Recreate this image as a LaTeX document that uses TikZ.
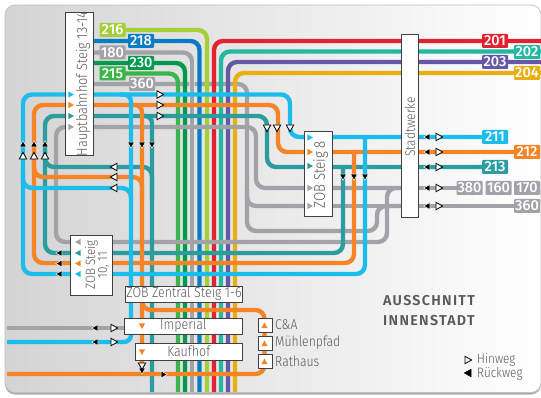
\documentclass[tikz,border=0pt]{standalone}
\usepackage{fontspec}
\setmainfont{Fira Sans Light}[FakeStretch=0.86]
\newfontfamily\numfont{Fira Sans Medium}
\newfontfamily\headfont{Fira Sans SemiBold}[LetterSpace=9]
\definecolor{cLime}{HTML}{A6CE39}
\definecolor{cBlue}{HTML}{0A7CC4}
\definecolor{cGray}{HTML}{A2A3A6}
\definecolor{cDgreen}{HTML}{009A4E}
\definecolor{cGreen}{HTML}{3BB54A}
\definecolor{cCyan}{HTML}{1CBDEC}
\definecolor{cOrange}{HTML}{F58426}
\definecolor{cTeal}{HTML}{2B9DA0}
\definecolor{cRed}{HTML}{E1232F}
\definecolor{cJade}{HTML}{22B8A2}
\definecolor{cPurple}{HTML}{6558A6}
\definecolor{cYellow}{HTML}{E9AE10}
\definecolor{cText}{HTML}{58595B}
\pgfdeclarelayer{background}
\pgfdeclarelayer{lines}
\pgfsetlayers{background,lines,main}
\tikzset{
  ln/.style={line width=4.4pt,rounded corners=9pt},
  linenum/.style={rounded corners=1pt,text=white,font=\numfont\fontsize{14.5}{14.5}\selectfont,minimum height=14pt,minimum width=26pt,inner sep=0pt,outer sep=0pt},
  stopbox/.style={draw=black!75,line width=.8pt,fill=white,inner sep=0pt,outer sep=0pt,text=cText},
  wtri/.style={fill=white,draw=black,line width=.8pt,line join=miter},
  ktri/.style={fill=black,draw=white,line width=.5pt},
  ctext/.style={text=cText,font=\fontsize{14.2}{14.2}\selectfont,anchor=west,inner sep=0pt},
  legtext/.style={text=cText,font=\fontsize{13.6}{13.6}\selectfont,anchor=west,inner sep=0pt},
  vtext/.style={text=cText,rotate=90,inner sep=0pt},
  headtext/.style={anchor=west,inner sep=0pt,text=cText,font=\headfont\fontsize{14.3}{14.3}\selectfont},
}
\newcommand{\trg}[4]{\path[#4,shift={(#1,#2)},rotate=#3] (3.6,0)--(-3,3.7)--(-3,-3.7)--cycle;}
\newcommand{\ktrg}[4]{\path[#4,shift={(#1,#2)},rotate=#3] (3.2,0)--(-2.8,3.4)--(-2.8,-3.4)--cycle;}
\newcommand{\ftrg}[4]{\path[fill=#4,shift={(#1,#2)},rotate=#3] (3,0)--(-2.6,3.1)--(-2.6,-3.1)--cycle;}
\begin{document}
\begin{tikzpicture}[x=1pt,y=-1pt]
\useasboundingbox (0,0) rectangle (541,398);
% panel
\begin{pgfonlayer}{background}
\fill[white] (0,0) rectangle (541,398);
\fill[black!32,rounded corners=10pt] (5,8) rectangle (541,394.5);
\path[left color=black!17,right color=white,draw=black!25,line width=.7pt,rounded corners=10pt] (5,5) rectangle (541,392.5);
\end{pgfonlayer}
% labels
\node[linenum,fill=cLime] (l216) at (112.5,30) {216};
\node[linenum,fill=cBlue] (l218) at (141,41) {218};
\node[linenum,fill=cGray] (l180) at (112.5,52.5) {180};
\node[linenum,fill=cDgreen] (l230) at (141,63) {230};
\node[linenum,fill=cGreen] (l215) at (112.5,73.5) {215};
\node[linenum,fill=cGray] (l360a) at (142,84) {360};
\node[linenum,fill=cRed] (l201) at (495,41) {201};
\node[linenum,fill=cJade] (l202) at (527,52) {202};
\node[linenum,fill=cPurple] (l203) at (495,62) {203};
\node[linenum,fill=cYellow] (l204) at (527,73) {204};
\node[linenum,fill=cCyan] (l211) at (495,137) {211};
\node[linenum,fill=cOrange] (l212) at (527,152) {212};
\node[linenum,fill=cTeal] (l213) at (495,167) {213};
\node[linenum,fill=cGray] (l380) at (469.5,188) {380};
\node[linenum,fill=cGray] (l160) at (498.5,188) {160};
\node[linenum,fill=cGray] (l170) at (527,188) {170};
\node[linenum,fill=cGray] (l360b) at (527,206) {360};
% stop boxes
\node[stopbox,minimum width=27.5pt,minimum height=143pt] (hbf) at (79.2,84) {};
\node[vtext,font=\fontsize{14.8}{14.8}\selectfont] (hbft) at (83,84) {Hauptbahnhof Steig 13-14};
\node[stopbox,minimum width=42pt,minimum height=60pt] (zob1011) at (91.7,265) {};
\node[vtext,font=\fontsize{13.5}{12}\selectfont,align=center] (zob1011t) at (97,265) {ZOB Steig\\10, 11};
\node[stopbox,minimum width=117.5pt,minimum height=16pt,font=\fontsize{14.5}{14.5}\selectfont] (zentral) at (184,294) {ZOB Zentral Steig 1-6};
\node[stopbox,minimum width=117.5pt,minimum height=16pt,font=\fontsize{14.5}{14.5}\selectfont] (imperial) at (183.3,326) {Imperial};
\node[stopbox,minimum width=106.5pt,minimum height=17pt,font=\fontsize{14.5}{14.5}\selectfont] (kaufhof) at (188.8,351.5) {Kaufhof};
\node[stopbox,minimum width=17pt,minimum height=183pt] (stadt) at (409.5,125.5) {};
\node[vtext,font=\fontsize{14}{14}\selectfont] (stadtt) at (410,127) {Stadtwerke};
\node[stopbox,minimum width=28pt,minimum height=85pt] (st8) at (318,173.5) {};
\node[vtext,font=\fontsize{15.5}{15.5}\selectfont] (st8t) at (320.5,174.5) {ZOB Steig 8};
\node[stopbox,minimum width=14pt,minimum height=14pt] (ca) at (265,325) {};
\node[stopbox,minimum width=14pt,minimum height=14pt] (mp) at (265,343) {};
\node[stopbox,minimum width=14pt,minimum height=14pt] (ra) at (265,361) {};
\node[ctext] (cat) at (275,325) {C\&A};
\node[ctext] (mpt) at (275,343) {Mühlenpfad};
\node[ctext] (rat) at (275,361) {Rathaus};
\node[headtext] (aus) at (383,301) {AUSSCHNITT};
\node[headtext] (inn) at (383,321) {INNENSTADT};
\node[legtext] (hin) at (477,360) {Hinweg};
\node[legtext] (rue) at (477,374) {Rückweg};
% lines
\begin{pgfonlayer}{lines}
\draw[ln,cGray] (hbf.east |- l360a) -| (247,231) -| (377,206) -- (stadt.west |- l360b);
\draw[ln,cGreen] (l215.center) -| (178,392);
\draw[ln,cDgreen] (hbf.east |- l230) -| (185,392);
\draw[white,line width=6pt,opacity=.6] (192,60) -- (192,392);
\draw[ln,cGray] (hbf.east |- l180) -| (192,392);
\draw[ln,cBlue] (hbf.east |- l218) -| (199.5,392);
\draw[ln,cLime] (l216.center) -| (207,392);
\draw[ln,cRed] (541,41) -| (214,392);
\draw[ln,cJade] (541,51.5) -| (221,392);
\draw[ln,cPurple] (541,62) -| (228,392);
\draw[ln,cYellow] (541,73) -| (235,392);
% gray
\draw[ln,cGray] (247,190) |- (st8.west |- l360b);
\draw[ln,cGray] (st8.west |- l360b) -- (stadt.west |- l360b);
\draw[ln,cGray] (stadt.west |- l380) -- (256,188) |- (56,127) |- (387,242) |- (stadt.west |- l380);
\draw[ln,cGray] (stadt.east |- l380) -- (l380.center);
\draw[ln,cGray] (stadt.east |- l360b) -- (l360b.center);
% teal
\draw[ln,cTeal] (l213.center) -- (267,167) |- (45,116) |- (343,253) -- (343,167);
\draw[ln,cTeal] (45,150) |- (152,167) -- (152,200);
\draw[ln,cTeal,rounded corners=7pt] (140,116) -| (152,392);
% orange
\draw[ln,cOrange] (l212.center) -- (278,152) |- (34,105) |- (354,263) -- (354,152);
\draw[ln,cOrange] (34,160) |- (142,177) -- (142,200);
\draw[ln,cOrange,rounded corners=7pt] (130,105) -| (142,374);
\draw[ln,cOrange] (142,295) |- (264.5,310) |- (7,374);
% cyan
\draw[ln,cCyan] (l211.center) -- (290,137) |- (23,94.5) |- (365,274) -- (365,137);
\draw[ln,cCyan] (23,170) |- (131,188) -- (131,200);
\draw[ln,cCyan,rounded corners=7pt] (120,94.5) -| (131,342) -- (7,342);
\draw[line width=4.4pt,cGray] (7,328) -- (imperial.west |- 0,328);
\end{pgfonlayer}
% triangles inside boxes
\ftrg{71}{94.5}{0}{cCyan}\ftrg{71}{105}{0}{cOrange}\ftrg{71}{116}{0}{cTeal}\ftrg{71}{127}{0}{cGray}
\ftrg{78}{242}{180}{cGray}\ftrg{78}{253}{180}{cTeal}\ftrg{78}{263.5}{180}{cOrange}\ftrg{78}{274}{180}{cCyan}
\ftrg{310}{137.5}{0}{cCyan}\ftrg{310}{152}{0}{cOrange}\ftrg{310}{166}{0}{cTeal}\ftrg{310}{188}{0}{cGray}\ftrg{310}{206}{0}{cGray}
\ftrg{142}{326}{-90}{cOrange}\ftrg{142}{352}{-90}{cOrange}
\ftrg{264.5}{325.5}{90}{cOrange}\ftrg{264.5}{343.5}{90}{cOrange}\ftrg{264.5}{361.5}{90}{cOrange}
% direction marks
\foreach \y in {94.5,105,116}{\trg{160}{\y}{0}{wtri}}
\foreach \x in {267,277,290}{\trg{\x}{128}{-90}{wtri}}
\foreach \x in {23,34,45}{\trg{\x}{156}{90}{wtri}\ktrg{\x}{144}{90}{ktri}}
\foreach \x in {131,142,152}{\ktrg{\x}{145}{-90}{ktri}}
\foreach \y in {167,177,188}{\trg{114}{\y}{180}{wtri}}
\foreach \y in {253,263.5,274}{\ktrg{59}{\y}{180}{ktri}}
\foreach \x in {343,354,365}{\ktrg{\x}{177}{-90}{ktri}}
\foreach \y in {137,152,167,188,206}{\ktrg{427}{\y}{180}{ktri}\trg{439}{\y}{0}{wtri}}
\foreach \y in {328,342}{\ktrg{95}{\y}{180}{ktri}\trg{114}{\y}{0}{wtri}}
\ktrg{142}{371}{-90}{ktri}\trg{142}{366}{-90}{wtri}
\ktrg{164}{374.5}{0}{ktri}
\trg{468}{360}{0}{wtri}\trg{468}{373}{180}{fill=black,draw=black,line width=.6pt}
\end{tikzpicture}
\end{document}
